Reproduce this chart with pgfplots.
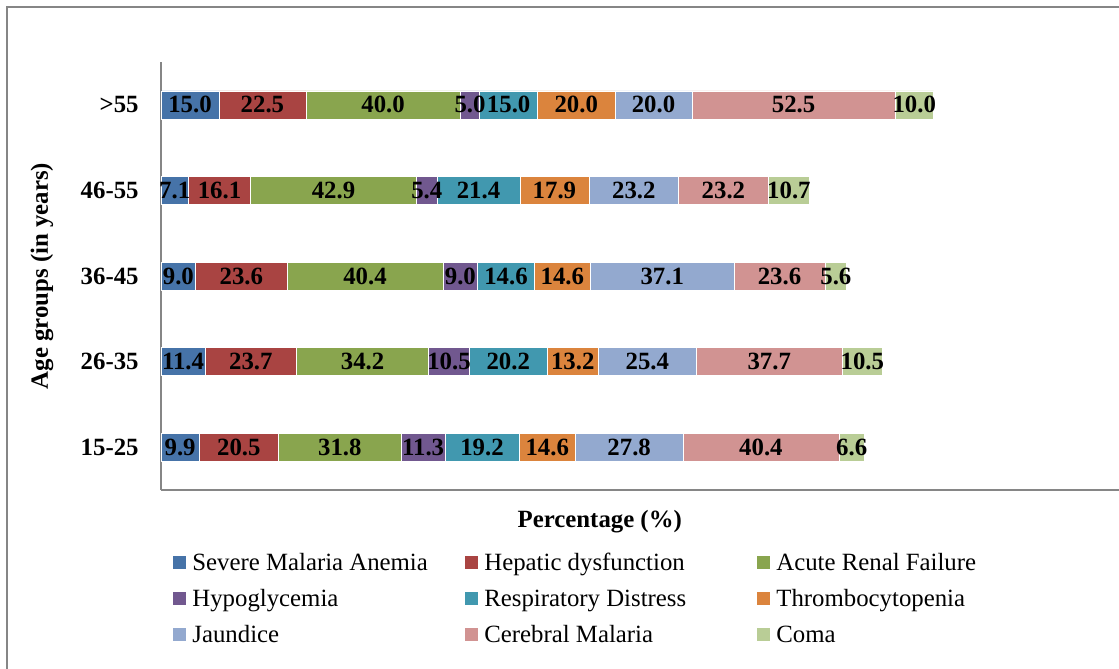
\documentclass[border=0pt]{standalone}
\usepackage{fontspec}
\setmainfont{Liberation Serif}
\usepackage{pgfplots}
\pgfplotsset{compat=1.18}
\usepackage{pgfplotstable}
\definecolor{c1}{HTML}{4673A8}
\definecolor{c2}{HTML}{A94442}
\definecolor{c3}{HTML}{89A54E}
\definecolor{c4}{HTML}{71588F}
\definecolor{c5}{HTML}{4198AF}
\definecolor{c6}{HTML}{DB843D}
\definecolor{c7}{HTML}{93A9CF}
\definecolor{c8}{HTML}{D19392}
\definecolor{c9}{HTML}{B9CD96}
\definecolor{axgray}{HTML}{868686}
\newcommand\fs{\fontsize{12.4}{15}\selectfont}
\pgfplotstableread{
pos sma hd arf hypo rd thr jau cm coma
0 9.9 20.5 31.8 11.3 19.2 14.6 27.8 40.4 6.6
1 11.4 23.7 34.2 10.5 20.2 13.2 25.4 37.7 10.5
2 9.0 23.6 40.4 9.0 14.6 14.6 37.1 23.6 5.6
3 7.1 16.1 42.9 5.4 21.4 17.9 23.2 23.2 10.7
4 15.0 22.5 40.0 5.0 15.0 20.0 20.0 52.5 10.0
}\data
% label positions: middle of each stacked segment, computed from the data
\pgfplotstablecreatecol[create col/expr={\thisrow{sma}/2}]{m1}\data
\pgfplotstablecreatecol[create col/expr={\thisrow{sma}+\thisrow{hd}/2}]{m2}\data
\pgfplotstablecreatecol[create col/expr={\thisrow{sma}+\thisrow{hd}+\thisrow{arf}/2}]{m3}\data
\pgfplotstablecreatecol[create col/expr={\thisrow{sma}+\thisrow{hd}+\thisrow{arf}+\thisrow{hypo}/2}]{m4}\data
\pgfplotstablecreatecol[create col/expr={\thisrow{sma}+\thisrow{hd}+\thisrow{arf}+\thisrow{hypo}+\thisrow{rd}/2}]{m5}\data
\pgfplotstablecreatecol[create col/expr={\thisrow{sma}+\thisrow{hd}+\thisrow{arf}+\thisrow{hypo}+\thisrow{rd}+\thisrow{thr}/2}]{m6}\data
\pgfplotstablecreatecol[create col/expr={\thisrow{sma}+\thisrow{hd}+\thisrow{arf}+\thisrow{hypo}+\thisrow{rd}+\thisrow{thr}+\thisrow{jau}/2}]{m7}\data
\pgfplotstablecreatecol[create col/expr={\thisrow{sma}+\thisrow{hd}+\thisrow{arf}+\thisrow{hypo}+\thisrow{rd}+\thisrow{thr}+\thisrow{jau}+\thisrow{cm}/2}]{m8}\data
\pgfplotstablecreatecol[create col/expr={\thisrow{sma}+\thisrow{hd}+\thisrow{arf}+\thisrow{hypo}+\thisrow{rd}+\thisrow{thr}+\thisrow{jau}+\thisrow{cm}+\thisrow{coma}/2}]{m9}\data
\pgfplotsset{base/.style={scale only axis, width=479pt, height=214pt,
  xmin=0, xmax=248, ymin=-0.5, ymax=4.5}}
\begin{document}
\begin{tikzpicture}
\begin{axis}[name=ax, base,
  xbar stacked, bar width=14pt,
  axis x line=bottom, axis y line=left,
  axis line style={draw=axgray, line width=1pt, -},
  xtick=\empty, ytick={0,1,2,3,4},
  yticklabels={15-25,26-35,36-45,46-55,>55},
  major tick length=0pt,
  yticklabel style={font=\fs\bfseries, inner sep=0pt, xshift=-11pt},
  xlabel={Percentage (\%)},
  xlabel style={at={(axis description cs:0.458,-0.0748)}, anchor=center, font=\fs\bfseries},
  ylabel={Age groups (in years)},
  ylabel style={at={(axis description cs:-0.1242,0.5)}, anchor=center, font=\fs\bfseries},
  legend columns=3,
  legend style={at={(axis description cs:0.01253,-0.1449)}, anchor=north west,
    draw=none, fill=none, inner sep=0pt, row sep=6pt, column sep=0pt,
    nodes={inner sep=0pt, text height=9pt, text depth=3pt, font=\fs},
    cells={anchor=base west},
    /tikz/every odd column/.append style={column sep=3pt}},
  legend image code/.code={\fill[#1,draw=none] (0pt,0.75pt) rectangle (6.5pt,7.25pt);},
]
\addplot[fill=c1, draw=white, line width=0.3pt] table[x=sma,y=pos]{\data};
\addlegendentry{\makebox[136.5pt][l]{Severe Malaria Anemia}}
\addplot[fill=c2, draw=white, line width=0.3pt] table[x=hd,y=pos]{\data};
\addlegendentry{\makebox[136.5pt][l]{Hepatic dysfunction}}
\addplot[fill=c3, draw=white, line width=0.3pt] table[x=arf,y=pos]{\data};
\addlegendentry{\makebox[136.5pt][l]{Acute Renal Failure}}
\addplot[fill=c4, draw=white, line width=0.3pt] table[x=hypo,y=pos]{\data};
\addlegendentry{\makebox[136.5pt][l]{Hypoglycemia}}
\addplot[fill=c5, draw=white, line width=0.3pt] table[x=rd,y=pos]{\data};
\addlegendentry{\makebox[136.5pt][l]{Respiratory Distress}}
\addplot[fill=c6, draw=white, line width=0.3pt] table[x=thr,y=pos]{\data};
\addlegendentry{\makebox[136.5pt][l]{Thrombocytopenia}}
\addplot[fill=c7, draw=white, line width=0.3pt] table[x=jau,y=pos]{\data};
\addlegendentry{\makebox[136.5pt][l]{Jaundice}}
\addplot[fill=c8, draw=white, line width=0.3pt] table[x=cm,y=pos]{\data};
\addlegendentry{\makebox[136.5pt][l]{Cerebral Malaria}}
\addplot[fill=c9, draw=white, line width=0.3pt] table[x=coma,y=pos]{\data};
\addlegendentry{\makebox[136.5pt][l]{Coma}}
\end{axis}
\begin{axis}[base, at={(ax.south west)}, anchor=south west, hide axis,
  point meta=explicit,
  nodes near coords={\pgfmathprintnumber[fixed,fixed zerofill,precision=1,assume math mode=true]{\pgfplotspointmeta}},
  every node near coord/.append style={anchor=center, inner sep=0pt, font=\fs\bfseries, text=black}]
\addplot[draw=none, mark=none] table[x=m1,y=pos,meta=sma]{\data};
\addplot[draw=none, mark=none] table[x=m2,y=pos,meta=hd]{\data};
\addplot[draw=none, mark=none] table[x=m3,y=pos,meta=arf]{\data};
\addplot[draw=none, mark=none] table[x=m4,y=pos,meta=hypo]{\data};
\addplot[draw=none, mark=none] table[x=m5,y=pos,meta=rd]{\data};
\addplot[draw=none, mark=none] table[x=m6,y=pos,meta=thr]{\data};
\addplot[draw=none, mark=none] table[x=m7,y=pos,meta=jau]{\data};
\addplot[draw=none, mark=none] table[x=m8,y=pos,meta=cm]{\data};
\addplot[draw=none, mark=none] table[x=m9,y=pos,meta=coma]{\data};
\end{axis}
\draw[axgray, line width=1.2pt] ([shift={(-77pt,241.5pt)}]ax.south west) rectangle ([shift={(700pt,-200pt)}]ax.south west);
\pgfresetboundingbox
\path[use as bounding box] ([shift={(-80.5pt,-89.5pt)}]ax.south west) rectangle ([shift={(479pt,245pt)}]ax.south west);
\end{tikzpicture}
\end{document}
